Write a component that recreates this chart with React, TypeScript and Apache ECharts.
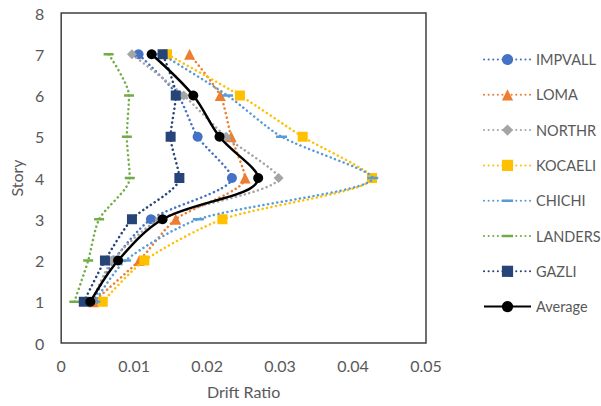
import React, { useEffect, useRef } from "react";
import * as echarts from "echarts";

const stories = [1, 2, 3, 4, 5, 6, 7];
const seriesNames = ["IMPVALL", "LOMA", "NORTHR", "KOCAELI", "CHICHI", "LANDERS", "GAZLI", "Average"];
const impvall = [0.0044, 0.0072, 0.0123, 0.0234, 0.0187, 0.0160, 0.0106];
const loma = [0.0044, 0.0107, 0.0157, 0.0252, 0.0233, 0.0218, 0.0176];
const northr = [0.0042, 0.0070, 0.0135, 0.0298, 0.0226, 0.0168, 0.0097];
const kocaeli = [0.0057, 0.0114, 0.0221, 0.0426, 0.0331, 0.0245, 0.0145];
const chichi = [0.0046, 0.0088, 0.0188, 0.0427, 0.0302, 0.0228, 0.0138];
const landers = [0.0018, 0.0037, 0.0052, 0.0094, 0.0090, 0.0093, 0.0065];
const gazli = [0.0031, 0.0060, 0.0097, 0.0162, 0.0150, 0.0157, 0.0139];
const average = [0.0040, 0.0078, 0.0139, 0.0270, 0.0217, 0.0181, 0.0124];
const xTicks = [0, 0.01, 0.02, 0.03, 0.04, 0.05];

const FONT = "Lato, 'Open Sans', sans-serif";
const TXT = "#595959";
// thin horizontal dash inside a square bounding box (degenerate corner subpaths keep the box square)
const DASH = "path://M0,0 L0.01,0 Z M0,4.6 L12,4.6 L12,7.4 L0,7.4 Z M12,12 L11.99,12 Z";

export default function App() {
  const ref = useRef<HTMLDivElement>(null);
  useEffect(() => {
    if (!ref.current) return;
    const chart = echarts.init(ref.current, null, { renderer: "svg" });
    const values = [impvall, loma, northr, kocaeli, chichi, landers, gazli, average];
    const colors = ["#4472C4", "#ED7D31", "#A5A5A5", "#FFC000", "#5B9BD5", "#70AD47", "#264478", "#000000"];
    const symbols: any[] = ["circle", "triangle", "diamond", "rect", DASH, DASH, "rect", "circle"];
    const sizes: any[] = [10, 11, 10, 10, 11, 10, 10, 10];
    const series = seriesNames.map((name, i) => {
      const isAvg = name === "Average";
      return {
        name,
        type: "line",
        data: stories.map((s, j) => [values[i][j], s]),
        smooth: isAvg ? 0.35 : 0.25,
        symbol: symbols[i],
        symbolSize: sizes[i],
        showSymbol: true,
        itemStyle: { color: colors[i] },
        lineStyle: isAvg
          ? { color: colors[i], width: 2.5, type: "solid" }
          : { color: colors[i], width: 2.5, type: [0.1, 4.5], cap: "round" },
        z: 2 + i,
      };
    });
    chart.setOption({
      animation: false,
      textStyle: { fontFamily: FONT },
      grid: {
        left: 60,
        right: 175,
        top: 13,
        bottom: 63,
        show: true,
        borderColor: "#404040",
        borderWidth: 1.5,
        backgroundColor: "transparent",
      },
      legend: {
        orient: "vertical",
        left: 478,
        top: 47,
        itemWidth: 47,
        itemHeight: 14,
        itemGap: 20.3,
        data: seriesNames,
        textStyle: { color: TXT, fontSize: 14.5, fontFamily: FONT },
      },
      xAxis: {
        type: "value",
        min: xTicks[0],
        max: xTicks[xTicks.length - 1],
        interval: 0.01,
        name: "Drift Ratio",
        nameLocation: "middle",
        nameGap: 40,
        nameTextStyle: { color: TXT, fontSize: 16, fontFamily: FONT },
        axisLine: { show: false },
        axisTick: { show: false },
        splitLine: { show: false },
        axisLabel: { color: TXT, fontSize: 16, margin: 14, fontFamily: FONT },
      },
      yAxis: {
        type: "value",
        min: 0,
        max: 8,
        interval: 1,
        name: "Story",
        nameLocation: "middle",
        nameGap: 37,
        nameTextStyle: { color: TXT, fontSize: 16, fontFamily: FONT },
        axisLine: { show: false },
        axisTick: { show: false },
        splitLine: { show: false },
        axisLabel: { color: TXT, fontSize: 16, margin: 17, fontFamily: FONT },
      },
      series,
    });
    return () => chart.dispose();
  }, []);
  return <div ref={ref} style={{ width: 601, height: 406, position: "absolute", left: 0, top: 0 }} />;
}
